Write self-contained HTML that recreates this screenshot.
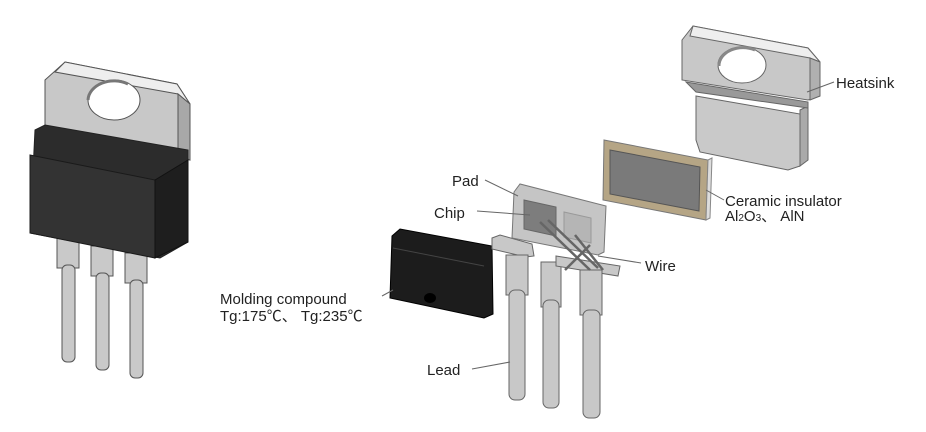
<!DOCTYPE html>
<html><head><meta charset="utf-8"><style>
html,body{margin:0;padding:0;background:#fff;}
svg{display:block}
text{font-family:"Liberation Sans","Noto Sans CJK SC",sans-serif;font-size:15px;fill:#222}
</style></head><body>
<svg width="926" height="432" viewBox="0 0 926 432" xmlns="http://www.w3.org/2000/svg">
<rect width="926" height="432" fill="#fff"/>
<g stroke="#555" stroke-width="1">
 <g fill="#c9c9c9">
  <rect x="57" y="238" width="22" height="30"/><rect x="62" y="265" width="13" height="97" rx="5"/>
  <rect x="91" y="246" width="22" height="30"/><rect x="96" y="273" width="13" height="97" rx="5"/>
  <rect x="125" y="253" width="22" height="30"/><rect x="130" y="280" width="13" height="98" rx="5"/>
 </g>
 <polygon points="45,80 65,62 177,84 190,104 190,160 45,140" fill="#c8c8c8"/>
 <polygon points="65,62 177,84 190,104 178,94 55,72" fill="#eee"/>
 <polygon points="178,94 190,104 190,160 178,155" fill="#a8a8a8"/>
 <ellipse cx="114" cy="100" rx="26" ry="20" fill="#fff"/>
 <path d="M88,100 a26,20 0 0 1 40,-16" fill="none" stroke="#777" stroke-width="3"/>
 <polygon points="35,130 45,125 188,150 188,242 160,258 30,233" fill="#2c2c2c" stroke="#222"/>
 <polygon points="30,155 155,180 155,258 30,233" fill="#333" stroke="#1a1a1a"/>
 <polygon points="155,180 188,160 188,242 155,258" fill="#1e1e1e" stroke="#111"/>
</g>

<g stroke="#666" stroke-width="1">
 <polygon points="696,96 800,114 800,166 788,170 700,152 696,140" fill="#c9c9c9"/>
 <polygon points="800,110 808,106 808,160 800,166" fill="#aaa"/>
 <polygon points="682,40 693,26 808,48 820,62 820,96 808,100 682,80" fill="#c8c8c8"/>
 <polygon points="693,26 808,48 820,62 810,58 690,36" fill="#eee"/>
 <polygon points="810,58 820,62 820,96 810,100" fill="#b0b0b0"/>
 <ellipse cx="742" cy="65" rx="24" ry="18" fill="#fff"/>
 <path d="M719,66 a24,18 0 0 1 36,-16" fill="none" stroke="#888" stroke-width="3"/>
 <polygon points="686,82 808,102 808,108 696,92" fill="#999"/>
</g>

<polygon points="604,140 708,160 706,220 603,200" fill="#b5a585" stroke="#777"/>
<polygon points="610,150 700,167 699,211 610,194" fill="#7a7a7a" stroke="#555"/>
<polygon points="708,160 712,158 710,218 706,220" fill="#ddd" stroke="#888"/>

<polygon points="392,236 400,229 492,246 493,314 484,318 390,298" fill="#1c1c1c" stroke="#000"/>
<line x1="393" y1="248" x2="484" y2="266" stroke="#444"/>
<ellipse cx="430" cy="298" rx="6" ry="5" fill="#000"/>

<g fill="#c8c8c8" stroke="#666">
 <polygon points="492,238 500,235 532,244 534,256 526,257 492,249"/>
 <rect x="506" y="255" width="22" height="40"/><rect x="509" y="290" width="16" height="110" rx="6"/>
 <rect x="541" y="262" width="20" height="45"/><rect x="543" y="300" width="16" height="108" rx="6"/>
 <polygon points="556,256 620,266 618,276 556,266"/>
 <rect x="580" y="270" width="22" height="45"/><rect x="583" y="310" width="17" height="108" rx="6"/>
</g>

<polygon points="514,192 520,184 606,206 604,252 598,255 512,238" fill="#c5c5c5" stroke="#777"/>
<polygon points="524,200 556,207 556,236 524,229" fill="#7d7d7d" stroke="#666"/>
<polygon points="564,212 591,218 591,243 564,237" fill="#b5b5b5" stroke="#999"/>
<g stroke="#666" stroke-width="2.5" fill="none">
 <line x1="540" y1="222" x2="590" y2="270"/><line x1="548" y1="220" x2="598" y2="268"/>
 <line x1="575" y1="235" x2="603" y2="270"/><line x1="590" y1="245" x2="565" y2="270"/>
</g>

<g stroke="#666" stroke-width="1" fill="none">
 <line x1="807" y1="92" x2="834" y2="82"/>
 <line x1="706" y1="190" x2="724" y2="200"/>
 <line x1="485" y1="180" x2="518" y2="196"/>
 <line x1="477" y1="211" x2="530" y2="215"/>
 <line x1="598" y1="256" x2="641" y2="263"/>
 <line x1="382" y1="296" x2="393" y2="290"/>
 <line x1="472" y1="369" x2="510" y2="362"/>
</g>
<text x="836" y="88">Heatsink</text>
<text x="725" y="206">Ceramic insulator</text>
<text x="725" y="221">Al<tspan font-size="10">2</tspan>O<tspan font-size="10">3</tspan>、 AlN</text>
<text x="452" y="186">Pad</text>
<text x="434" y="218">Chip</text>
<text x="645" y="271">Wire</text>
<text x="220" y="304">Molding compound</text>
<text x="220" y="321">Tg:175℃、 Tg:235℃</text>
<text x="427" y="375">Lead</text>
</svg>
</body></html>
